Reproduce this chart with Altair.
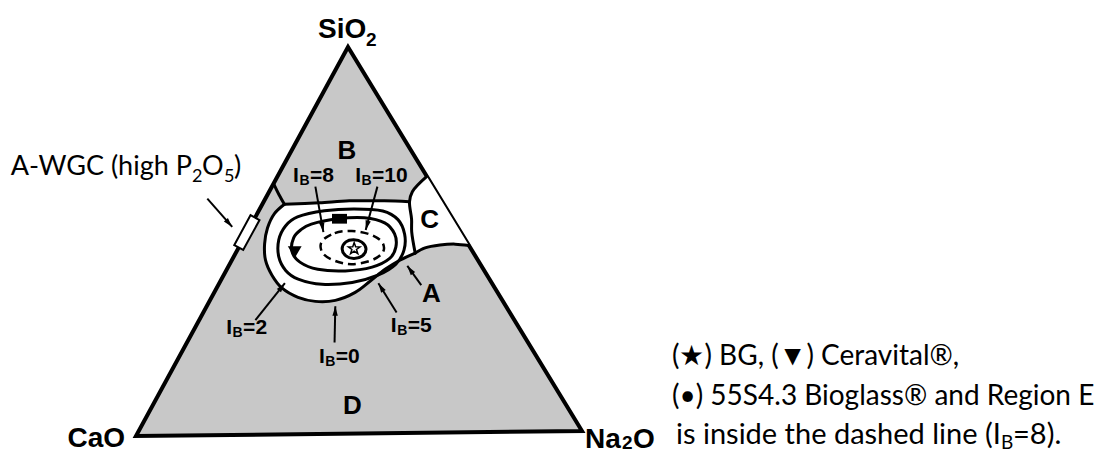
import math
import pandas as pd
import altair as alt

# ---------------------------------------------------------------------------
# Data: wt% SiO2 and wt% Na2O (CaO = balance)
# ---------------------------------------------------------------------------
triangle_sio2 = [100.0, 0.0, 0.0]
triangle_na2o = [0.0, 0.0, 100.0]

# white bioactive region A (I_B = 0 boundary closed by the ~60 % SiO2 line)
regionA_sio2 = [59.5, 59.8, 60.2, 60.1, 59.8, 55.3, 52.0, 46.5, 44.7, 42.4, 39.4,
                36.5, 34.5, 34.3, 35.4, 37.8, 41.2, 45.1, 49.3, 53.4, 57.1]
regionA_na2o = [5.0, 12.7, 19.2, 27.1, 32.9, 35.5, 37.1, 40.5, 37.9, 35.7, 33.8,
                31.8, 28.3, 23.9, 19.5, 14.8, 10.9, 7.6, 5.4, 4.1, 3.9]

# white region C (next to the SiO2-Na2O side)
regionC_sio2 = [66.3, 62.4, 59.8, 55.3, 52.0, 46.5, 47.8, 48.5, 48.7, 48.3]
regionC_na2o = [33.7, 32.3, 32.9, 35.5, 37.1, 40.5, 42.1, 45.1, 48.4, 51.7]

# boundary curves
divider_sio2 = [64.9, 62.0, 59.5]
divider_na2o = [0.0, 2.6, 5.0]
topline_sio2 = [59.5, 59.8, 60.2, 60.1, 59.8]
topline_na2o = [5.0, 12.7, 19.2, 27.1, 32.9]
cleft_sio2 = [66.3, 62.4, 59.8, 55.3, 52.0, 46.5]
cleft_na2o = [33.7, 32.3, 32.9, 35.5, 37.1, 40.5]
cbottom_sio2 = [46.5, 47.8, 48.5, 48.7, 48.3]
cbottom_na2o = [40.5, 42.1, 45.1, 48.4, 51.7]
ib0_sio2 = [46.5, 44.7, 42.4, 39.4, 36.5, 34.5, 34.3, 35.4, 37.8, 41.2, 45.1, 49.3, 53.4, 57.1, 59.5]
ib0_na2o = [40.5, 37.9, 35.7, 33.8, 31.8, 28.3, 23.9, 19.5, 14.8, 10.9, 7.6, 5.4, 4.1, 3.9, 5.0]

# iso-I_B contours (closed)
ib2_sio2 = [56.2, 57.7, 58.1, 57.5, 55.2, 51.4, 47.3, 43.7, 40.9, 39.1, 38.7, 40.1, 42.4, 45.9, 50.3, 53.9]
ib2_na2o = [9.5, 14.8, 21.3, 28.0, 32.5, 35.8, 37.6, 37.5, 34.8, 29.9, 23.3, 17.3, 13.4, 10.2, 8.1, 7.9]
ib5_sio2 = [54.3, 55.6, 55.8, 54.4, 51.5, 48.1, 45.2, 43.0, 42.1, 42.6, 44.5, 47.4, 50.8, 52.8]
ib5_na2o = [13.5, 18.8, 24.7, 29.9, 33.5, 35.4, 35.4, 32.5, 26.9, 20.5, 15.6, 12.4, 11.2, 11.8]
ib8_sio2 = [49.7, 51.9, 52.4, 51.5, 49.5, 46.9, 44.8, 43.8, 44.7, 46.7]
ib8_na2o = [18.0, 19.9, 23.5, 27.9, 31.6, 33.1, 31.6, 27.6, 23.4, 19.7]
ib10_sio2 = [47.8, 49.6, 50.1, 49.5, 47.7, 45.9, 45.3, 46.0]
ib10_na2o = [23.5, 23.5, 25.0, 27.1, 28.9, 28.9, 27.3, 25.2]

# glasses
glass_names = ["45S5 Bioglass (BG)", "Ceravital", "55S4.3 Bioglass", "A-WGC (high P2O5)"]
glass_sio2 = [47.8, 47.1, 55.6, 52.3]
glass_na2o = [26.2, 13.2, 19.2, 0.0]

# annotation arrows (from -> to)
arrow_from_sio2 = [61.2, 64.0, 63.8, 29.6, 23.6, 31.2, 38.2]
arrow_from_na2o = [-13.1, 9.8, 23.8, 12.7, 33.3, 43.6, 45.8]
arrow_to_sio2 = [53.8, 52.2, 52.6, 39.1, 33.0, 38.8, 43.2]
arrow_to_na2o = [-4.0, 17.2, 26.5, 14.8, 29.0, 35.9, 40.3]

# region letters
region_text = ["B", "C", "A", "D"]
region_sio2 = [73.0, 55.0, 36.0, 7.2]
region_na2o = [12.6, 39.7, 49.1, 45.1]

# I_B labels
ib_label_values = ["=8", "=10", "=2", "=0", "=5"]
ib_label_sio2 = [67.4, 67.2, 28.3, 20.5, 28.1]
ib_label_na2o = [4.5, 18.5, 8.1, 32.6, 45.1]

# ---------------------------------------------------------------------------
# Layout
# ---------------------------------------------------------------------------
W, H = 1089, 445
X0, Y0 = 8, 8
V_SIO2 = (348.0, 47.0)
V_CAO = (136.0, 436.0)
V_NA2O = (582.0, 431.0)
GRAY = "#c8c8c8"
BOLD_FONT = "Liberation Sans"
NOTE_FONT = "Lato"
STAR_PATH = ("M0,-1L0.235,-0.324L0.951,-0.309L0.38,0.124L0.588,0.809L0,0.4"
             "L-0.588,0.809L-0.38,0.124L-0.951,-0.309L-0.235,-0.324Z")


def to_xy(sio2, na2o):
    s, n = sio2 / 100.0, na2o / 100.0
    x = V_CAO[0] + n * (V_NA2O[0] - V_CAO[0]) + s * (V_SIO2[0] - V_CAO[0])
    y = V_CAO[1] + n * (V_NA2O[1] - V_CAO[1]) + s * (V_SIO2[1] - V_CAO[1])
    return x, y


def poly_df(sio2, na2o):
    rows = []
    for i, (s, n) in enumerate(zip(sio2, na2o)):
        x, y = to_xy(s, n)
        rows.append({"i": i, "SiO2": s, "Na2O": n, "CaO": round(100 - s - n, 1), "x": x, "y": y})
    return pd.DataFrame(rows)


X = alt.X("x:Q", scale=alt.Scale(domain=[X0, X0 + W], nice=False, zero=False), axis=None)
Y = alt.Y("y:Q", scale=alt.Scale(domain=[Y0, Y0 + H], nice=False, zero=False, reverse=True), axis=None)

layers = []


def path_layer(sio2, na2o, **mark):
    return alt.Chart(poly_df(sio2, na2o)).mark_line(**mark).encode(x=X, y=Y, order="i:Q")


# filled triangle
layers.append(path_layer(triangle_sio2, triangle_na2o, interpolate="linear-closed", fill=GRAY,
                         stroke="black", strokeWidth=4, strokeJoin="miter"))
# white regions
for s_, n_ in [(regionA_sio2, regionA_na2o), (regionC_sio2, regionC_na2o)]:
    layers.append(path_layer(s_, n_, interpolate="linear-closed", fill="white",
                             stroke="white", strokeOpacity=0, strokeWidth=0))

# boundary curves
for s_, n_ in [(divider_sio2, divider_na2o), (topline_sio2, topline_na2o),
               (cleft_sio2, cleft_na2o), (cbottom_sio2, cbottom_na2o), (ib0_sio2, ib0_na2o)]:
    layers.append(path_layer(s_, n_, interpolate="catmull-rom", stroke="black",
                             strokeWidth=3, strokeCap="round"))

# contour rings
for s_, n_ in [(ib2_sio2, ib2_na2o), (ib5_sio2, ib5_na2o), (ib10_sio2, ib10_na2o)]:
    layers.append(path_layer(s_, n_, interpolate="cardinal-closed", stroke="black", strokeWidth=3))
layers.append(path_layer(ib8_sio2, ib8_na2o, interpolate="cardinal-closed", stroke="black",
                         strokeWidth=2.5, strokeDash=[8, 5]))

# arrows
head_rows = []
for fs, fn, ts, tn in zip(arrow_from_sio2, arrow_from_na2o, arrow_to_sio2, arrow_to_na2o):
    layers.append(path_layer([fs, ts], [fn, tn], stroke="black", strokeWidth=2))
    x0, y0 = to_xy(fs, fn)
    x1, y1 = to_xy(ts, tn)
    ang = math.degrees(math.atan2(x1 - x0, -(y1 - y0))) % 360
    head_rows.append({"x": x1, "y": y1, "ang": ang})
layers.append(alt.Chart(pd.DataFrame(head_rows)).mark_point(
    shape="M0,0L0.45,1.6L-0.45,1.6Z", filled=True, color="black", opacity=1, size=144
).encode(x=X, y=Y, angle=alt.Angle("ang:Q", scale=None)))

# glass markers
edge_angle = math.degrees(math.atan2(V_SIO2[0] - V_CAO[0], -(V_SIO2[1] - V_CAO[1]))) % 360
marker_styles = [
    dict(shape=STAR_PATH, filled=True, fill="white", stroke="black", strokeWidth=1.5, size=150),
    dict(shape="triangle-down", filled=True, color="black", size=190),
    dict(shape="M-1,-0.65L1,-0.65L1,0.65L-1,0.65Z", filled=True, color="black", size=225),
    dict(shape="M-0.3,-1L0.3,-1L0.3,1L-0.3,1Z", filled=True, fill="white", stroke="black",
         strokeWidth=2, size=1156, angle=edge_angle),
]
for k in [3, 2, 1, 0]:
    df = poly_df([glass_sio2[k]], [glass_na2o[k]])
    df["glass"] = glass_names[k]
    layers.append(alt.Chart(df).mark_point(opacity=1, **marker_styles[k]).encode(x=X, y=Y))

# ---------------------------------------------------------------------------
# Text
# ---------------------------------------------------------------------------
text_rows = []


def add_text(txt, sio2, na2o, dx, dy, fs, align, baseline, font, weight):
    x, y = to_xy(sio2, na2o)
    text_rows.append({"text": txt, "x": x + dx, "y": y + dy, "fs": fs, "align": align,
                      "baseline": baseline, "font": font, "weight": weight})


# vertex labels
add_text("SiO", 100, 0, -30, -9, 28, "left", "alphabetic", BOLD_FONT, "bold")
add_text("2", 100, 0, 18, -1, 19, "left", "alphabetic", BOLD_FONT, "bold")
add_text("CaO", 0, 0, -11, 11, 28, "right", "alphabetic", BOLD_FONT, "bold")
add_text("Na", 0, 100, 3, 17, 28, "left", "alphabetic", BOLD_FONT, "bold")
add_text("2", 0, 100, 40, 18, 19, "left", "alphabetic", BOLD_FONT, "bold")
add_text("O", 0, 100, 51, 17, 28, "left", "alphabetic", BOLD_FONT, "bold")

# region letters
for t, s, n in zip(region_text, region_sio2, region_na2o):
    add_text(t, s, n, 0, 0, 26, "center", "middle", BOLD_FONT, "bold")

# I_B labels
for v, s, n in zip(ib_label_values, ib_label_sio2, ib_label_na2o):
    add_text("I", s, n, 0, 8, 21, "right", "alphabetic", BOLD_FONT, "bold")
    add_text("B", s, n, 0.5, 11, 14, "left", "alphabetic", BOLD_FONT, "bold")
    add_text(v, s, n, 11, 8, 21, "left", "alphabetic", BOLD_FONT, "bold")

# A-WGC callout (anchored on the A-WGC marker)
aw_s, aw_n = glass_sio2[3], glass_na2o[3]
add_text("A-WGC (high P", aw_s, aw_n, -55, -57.5, 27, "right", "alphabetic", NOTE_FONT, "normal")
add_text("2", aw_s, aw_n, -55, -50.5, 18, "left", "alphabetic", NOTE_FONT, "normal")
add_text("O", aw_s, aw_n, -45, -57.5, 27, "left", "alphabetic", NOTE_FONT, "normal")
add_text("5", aw_s, aw_n, -23, -50.5, 18, "left", "alphabetic", NOTE_FONT, "normal")
add_text(")", aw_s, aw_n, -13, -57.5, 27, "left", "alphabetic", NOTE_FONT, "normal")

# key text (anchored on the Na2O corner)
add_text("(\u2605) BG, (\u25BC) Ceravital\u00AE,", 0, 100, 90, -66, 28, "left", "alphabetic", NOTE_FONT, "normal")
add_text("(\u2022) 55S4.3 Bioglass\u00AE and Region E", 0, 100, 90, -26, 28, "left", "alphabetic", NOTE_FONT, "normal")
add_text("is inside the dashed line (I", 0, 100, 94, 13, 29, "left", "alphabetic", NOTE_FONT, "normal")
add_text("B", 0, 100, 419, 18, 19, "left", "alphabetic", NOTE_FONT, "normal")
add_text("=8).", 0, 100, 431, 13, 29, "left", "alphabetic", NOTE_FONT, "normal")

texts = pd.DataFrame(text_rows)
for (align, baseline, font, weight, fs), grp in texts.groupby(["align", "baseline", "font", "weight", "fs"]):
    layers.append(alt.Chart(grp[["text", "x", "y"]].reset_index(drop=True)).mark_text(
        align=align, baseline=baseline, font=font, fontWeight=weight, fontSize=float(fs), color="black"
    ).encode(x=X, y=Y, text="text:N"))

chart = alt.layer(*layers).properties(
    width=W, height=H, padding=0, autosize="none", background="white"
).configure_view(stroke=None)

chart.save("out.html", embed_options={"renderer": "svg", "actions": False})
